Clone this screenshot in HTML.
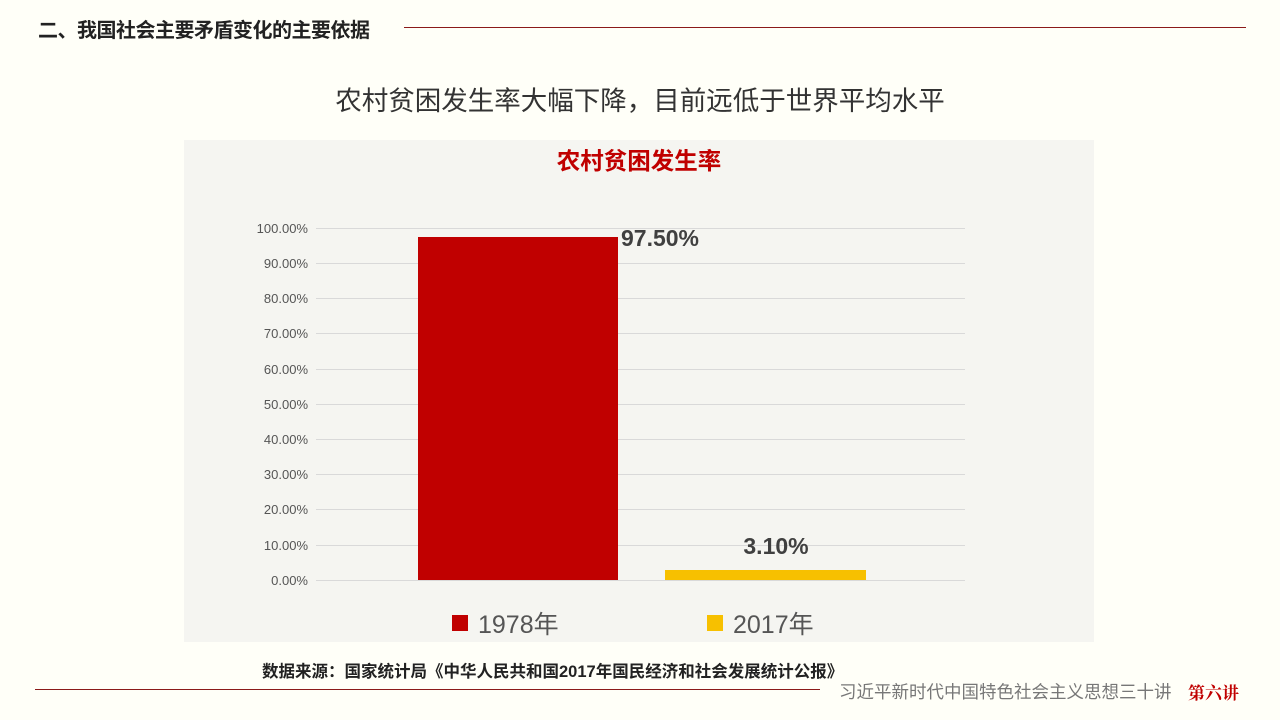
<!DOCTYPE html>
<html><head><meta charset="utf-8"><style>
body{margin:0;width:1280px;height:720px;background:#fffff8;position:relative;overflow:hidden;font-family:"Liberation Sans","Noto Sans CJK SC",sans-serif}
.a{position:absolute;white-space:nowrap}
</style></head><body>
<div class="a" style="left:38px;top:14px;font-size:20px;font-weight:bold;color:#222;letter-spacing:-0.5px">二、我国社会主要矛盾变化的主要依据</div>
<div class="a" style="left:404px;top:27px;width:842px;height:1px;background:#8b1a1a"></div>
<div class="a" style="left:0;width:1280px;top:79px;text-align:center;font-size:26.5px;color:#333">农村贫困发生率大幅下降，目前远低于世界平均水平</div>
<div class="a" style="left:184px;top:140px;width:910px;height:502px;background:#f5f5f1"></div>
<svg class="a" style="left:0;top:0" width="1280" height="720">
<text x="639" y="169" text-anchor="middle" font-size="23.5" font-weight="bold" fill="#c00000" font-family="Liberation Sans,Noto Sans CJK SC,sans-serif">农村贫困发生率</text>
<g stroke="#d9d9d9" stroke-width="1">
<line x1="316" x2="965" y1="228.5" y2="228.5"/><line x1="316" x2="965" y1="263.5" y2="263.5"/><line x1="316" x2="965" y1="298.5" y2="298.5"/><line x1="316" x2="965" y1="333.5" y2="333.5"/><line x1="316" x2="965" y1="369.5" y2="369.5"/><line x1="316" x2="965" y1="404.5" y2="404.5"/><line x1="316" x2="965" y1="439.5" y2="439.5"/><line x1="316" x2="965" y1="474.5" y2="474.5"/><line x1="316" x2="965" y1="509.5" y2="509.5"/><line x1="316" x2="965" y1="545.5" y2="545.5"/><line x1="316" x2="965" y1="580.5" y2="580.5"/>
</g>
<g font-size="13" fill="#555" text-anchor="end" font-family="Liberation Sans,sans-serif">
<text x="308" y="233">100.00%</text><text x="308" y="268">90.00%</text><text x="308" y="303">80.00%</text><text x="308" y="338">70.00%</text><text x="308" y="374">60.00%</text><text x="308" y="409">50.00%</text><text x="308" y="444">40.00%</text><text x="308" y="479">30.00%</text><text x="308" y="514">20.00%</text><text x="308" y="550">10.00%</text><text x="308" y="585">0.00%</text>
</g>
<rect x="418" y="237" width="200" height="343" fill="#c00000"/>
<rect x="665" y="570" width="201" height="10" fill="#f7c000"/>
<g font-size="23" font-weight="bold" fill="#404040" font-family="Liberation Sans,sans-serif">
<text x="621" y="246">97.50%</text><text x="776" y="554" text-anchor="middle">3.10%</text>
</g>
<rect x="452" y="615" width="16" height="16" fill="#c00000"/>
<rect x="707" y="615" width="16" height="16" fill="#f7c000"/>
<g font-size="25" fill="#555" font-family="Liberation Sans,Noto Sans CJK SC,sans-serif">
<text x="478" y="633">1978年</text><text x="733" y="633">2017年</text>
</g>
</svg>
<div class="a" style="left:262px;top:658px;font-size:16.5px;font-weight:bold;color:#222">数据来源：国家统计局《中华人民共和国2017年国民经济和社会发展统计公报》</div>
<div class="a" style="left:35px;top:689px;width:785px;height:1px;background:#8b1a1a"></div>
<div class="a" style="left:839px;top:679px;font-size:17.5px;color:#777">习近平新时代中国特色社会主义思想三十讲</div>
<div class="a" style="left:1188px;top:679px;font-size:17px;font-weight:bold;color:#c00000;font-family:'Noto Serif CJK SC',serif">第六讲</div>
</body></html>
